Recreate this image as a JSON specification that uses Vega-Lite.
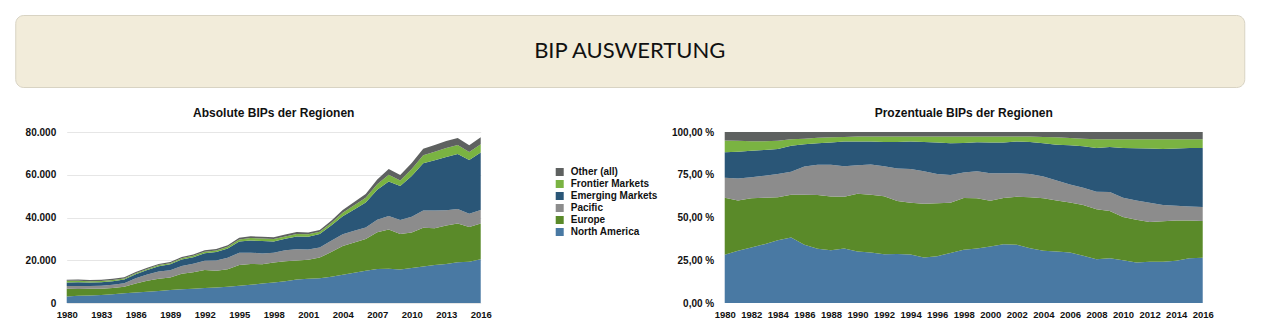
{
"$schema": "https://vega.github.io/schema/vega-lite/v6.json",
"padding": {"left": 14, "top": 14, "right": 0, "bottom": 0},
"background": "white",
"config": {
  "font": "Liberation Sans",
  "locale": {"number": {"decimal": ",", "thousands": ".", "grouping": [3], "currency": ["", " €"], "percent": " %"}},
  "view": {"stroke": null},
  "axis": {"labelFont": "Liberation Sans", "labelFontWeight": "bold", "labelFontSize": 10, "labelColor": "#111111", "domain": false, "ticks": false, "labelOverlap": false, "labelFlush": false},
  "title": {"font": "Liberation Sans", "fontSize": 12, "fontWeight": "bold", "color": "#111111", "frame": "group", "anchor": "middle", "offset": 7},
  "legend": {"labelFont": "Liberation Sans", "labelFontWeight": "bold", "labelFontSize": 10, "labelColor": "#111111", "symbolType": "square", "symbolSize": 64, "symbolStrokeWidth": 0, "rowPadding": 2, "labelOffset": 6, "padding": 0}
},
"datasets": {"gdp": [
{"year":1980,"region":"North America","gdp":3074},{"year":1980,"region":"Europe","gdp":3641},{"year":1980,"region":"Pacific","gdp":1264},{"year":1980,"region":"Emerging Markets","gdp":1635},{"year":1980,"region":"Frontier Markets","gdp":752},{"year":1980,"region":"Other (all)","gdp":534},
{"year":1981,"region":"North America","gdp":3355},{"year":1981,"region":"Europe","gdp":3245},{"year":1981,"region":"Pacific","gdp":1408},{"year":1981,"region":"Emerging Markets","gdp":1727},{"year":1981,"region":"Frontier Markets","gdp":704},{"year":1981,"region":"Other (all)","gdp":561},
{"year":1982,"region":"North America","gdp":3499},{"year":1982,"region":"Europe","gdp":3110},{"year":1982,"region":"Pacific","gdp":1339},{"year":1982,"region":"Emerging Markets","gdp":1674},{"year":1982,"region":"Frontier Markets","gdp":594},{"year":1982,"region":"Other (all)","gdp":583},
{"year":1983,"region":"North America","gdp":3750},{"year":1983,"region":"Europe","gdp":2965},{"year":1983,"region":"Pacific","gdp":1395},{"year":1983,"region":"Emerging Markets","gdp":1646},{"year":1983,"region":"Frontier Markets","gdp":556},{"year":1983,"region":"Other (all)","gdp":589},
{"year":1984,"region":"North America","gdp":4147},{"year":1984,"region":"Europe","gdp":2848},{"year":1984,"region":"Pacific","gdp":1537},{"year":1984,"region":"Emerging Markets","gdp":1650},{"year":1984,"region":"Frontier Markets","gdp":542},{"year":1984,"region":"Other (all)","gdp":576},
{"year":1985,"region":"North America","gdp":4596},{"year":1985,"region":"Europe","gdp":3000},{"year":1985,"region":"Pacific","gdp":1608},{"year":1985,"region":"Emerging Markets","gdp":1836},{"year":1985,"region":"Frontier Markets","gdp":444},{"year":1985,"region":"Other (all)","gdp":516},
{"year":1986,"region":"North America","gdp":4930},{"year":1986,"region":"Europe","gdp":4249},{"year":1986,"region":"Pacific","gdp":2393},{"year":1986,"region":"Emerging Markets","gdp":1885},{"year":1986,"region":"Frontier Markets","gdp":479},{"year":1986,"region":"Other (all)","gdp":566},
{"year":1987,"region":"North America","gdp":5247},{"year":1987,"region":"Europe","gdp":5165},{"year":1987,"region":"Pacific","gdp":2921},{"year":1987,"region":"Emerging Markets","gdp":2079},{"year":1987,"region":"Frontier Markets","gdp":545},{"year":1987,"region":"Other (all)","gdp":545},
{"year":1988,"region":"North America","gdp":5655},{"year":1988,"region":"Europe","gdp":5746},{"year":1988,"region":"Pacific","gdp":3386},{"year":1988,"region":"Emerging Markets","gdp":2379},{"year":1988,"region":"Frontier Markets","gdp":567},{"year":1988,"region":"Other (all)","gdp":567},
{"year":1989,"region":"North America","gdp":6106},{"year":1989,"region":"Europe","gdp":5818},{"year":1989,"region":"Pacific","gdp":3437},{"year":1989,"region":"Emerging Markets","gdp":2765},{"year":1989,"region":"Frontier Markets","gdp":518},{"year":1989,"region":"Other (all)","gdp":557},
{"year":1990,"region":"North America","gdp":6472},{"year":1990,"region":"Europe","gdp":7267},{"year":1990,"region":"Pacific","gdp":3591},{"year":1990,"region":"Emerging Markets","gdp":2967},{"year":1990,"region":"Frontier Markets","gdp":624},{"year":1990,"region":"Other (all)","gdp":581},
{"year":1991,"region":"North America","gdp":6697},{"year":1991,"region":"Europe","gdp":7673},{"year":1991,"region":"Pacific","gdp":4018},{"year":1991,"region":"Emerging Markets","gdp":3042},{"year":1991,"region":"Frontier Markets","gdp":658},{"year":1991,"region":"Other (all)","gdp":613},
{"year":1992,"region":"North America","gdp":7040},{"year":1992,"region":"Europe","gdp":8398},{"year":1992,"region":"Pacific","gdp":4323},{"year":1992,"region":"Emerging Markets","gdp":3507},{"year":1992,"region":"Frontier Markets","gdp":766},{"year":1992,"region":"Other (all)","gdp":667},
{"year":1993,"region":"North America","gdp":7261},{"year":1993,"region":"Europe","gdp":7818},{"year":1993,"region":"Pacific","gdp":4807},{"year":1993,"region":"Emerging Markets","gdp":3947},{"year":1993,"region":"Frontier Markets","gdp":784},{"year":1993,"region":"Other (all)","gdp":683},
{"year":1994,"region":"North America","gdp":7641},{"year":1994,"region":"Europe","gdp":8181},{"year":1994,"region":"Pacific","gdp":5346},{"year":1994,"region":"Emerging Markets","gdp":4320},{"year":1994,"region":"Frontier Markets","gdp":783},{"year":1994,"region":"Other (all)","gdp":729},
{"year":1995,"region":"North America","gdp":8113},{"year":1995,"region":"Europe","gdp":9608},{"year":1995,"region":"Pacific","gdp":5795},{"year":1995,"region":"Emerging Markets","gdp":5216},{"year":1995,"region":"Frontier Markets","gdp":946},{"year":1995,"region":"Other (all)","gdp":824},
{"year":1996,"region":"North America","gdp":8549},{"year":1996,"region":"Europe","gdp":9672},{"year":1996,"region":"Pacific","gdp":5335},{"year":1996,"region":"Emerging Markets","gdp":5710},{"year":1996,"region":"Frontier Markets","gdp":1092},{"year":1996,"region":"Other (all)","gdp":842},
{"year":1997,"region":"North America","gdp":9083},{"year":1997,"region":"Europe","gdp":9083},{"year":1997,"region":"Pacific","gdp":5022},{"year":1997,"region":"Emerging Markets","gdp":5766},{"year":1997,"region":"Frontier Markets","gdp":1209},{"year":1997,"region":"Other (all)","gdp":837},
{"year":1998,"region":"North America","gdp":9579},{"year":1998,"region":"Europe","gdp":9332},{"year":1998,"region":"Pacific","gdp":4589},{"year":1998,"region":"Emerging Markets","gdp":5328},{"year":1998,"region":"Frontier Markets","gdp":1140},{"year":1998,"region":"Other (all)","gdp":832},
{"year":1999,"region":"North America","gdp":10176},{"year":1999,"region":"Europe","gdp":9408},{"year":1999,"region":"Pacific","gdp":5088},{"year":1999,"region":"Emerging Markets","gdp":5408},{"year":1999,"region":"Frontier Markets","gdp":1056},{"year":1999,"region":"Other (all)","gdp":864},
{"year":2000,"region":"North America","gdp":10956},{"year":2000,"region":"Europe","gdp":8898},{"year":2000,"region":"Pacific","gdp":5345},{"year":2000,"region":"Emerging Markets","gdp":5943},{"year":2000,"region":"Frontier Markets","gdp":1162},{"year":2000,"region":"Other (all)","gdp":896},
{"year":2001,"region":"North America","gdp":11352},{"year":2001,"region":"Europe","gdp":8910},{"year":2001,"region":"Pacific","gdp":4785},{"year":2001,"region":"Emerging Markets","gdp":5907},{"year":2001,"region":"Frontier Markets","gdp":1155},{"year":2001,"region":"Other (all)","gdp":891},
{"year":2002,"region":"North America","gdp":11628},{"year":2002,"region":"Europe","gdp":9610},{"year":2002,"region":"Pacific","gdp":4720},{"year":2002,"region":"Emerging Markets","gdp":6327},{"year":2002,"region":"Frontier Markets","gdp":992},{"year":2002,"region":"Other (all)","gdp":923},
{"year":2003,"region":"North America","gdp":12320},{"year":2003,"region":"Europe","gdp":11512},{"year":2003,"region":"Pacific","gdp":5236},{"year":2003,"region":"Emerging Markets","gdp":7200},{"year":2003,"region":"Frontier Markets","gdp":1194},{"year":2003,"region":"Other (all)","gdp":1040},
{"year":2004,"region":"North America","gdp":13268},{"year":2004,"region":"Europe","gdp":13355},{"year":2004,"region":"Pacific","gdp":5568},{"year":2004,"region":"Emerging Markets","gdp":8439},{"year":2004,"region":"Frontier Markets","gdp":1610},{"year":2004,"region":"Other (all)","gdp":1262},
{"year":2005,"region":"North America","gdp":14207},{"year":2005,"region":"Europe","gdp":14113},{"year":2005,"region":"Pacific","gdp":5522},{"year":2005,"region":"Emerging Markets","gdp":9865},{"year":2005,"region":"Frontier Markets","gdp":2030},{"year":2005,"region":"Other (all)","gdp":1463},
{"year":2006,"region":"North America","gdp":15045},{"year":2006,"region":"Europe","gdp":14943},{"year":2006,"region":"Pacific","gdp":5355},{"year":2006,"region":"Emerging Markets","gdp":11679},{"year":2006,"region":"Frontier Markets","gdp":2193},{"year":2006,"region":"Other (all)","gdp":1785},
{"year":2007,"region":"North America","gdp":15953},{"year":2007,"region":"Europe","gdp":17167},{"year":2007,"region":"Pacific","gdp":5838},{"year":2007,"region":"Emerging Markets","gdp":14045},{"year":2007,"region":"Frontier Markets","gdp":2543},{"year":2007,"region":"Other (all)","gdp":2254},
{"year":2008,"region":"North America","gdp":16051},{"year":2008,"region":"Europe","gdp":18308},{"year":2008,"region":"Pacific","gdp":6395},{"year":2008,"region":"Emerging Markets","gdp":16114},{"year":2008,"region":"Frontier Markets","gdp":3135},{"year":2008,"region":"Other (all)","gdp":2696},
{"year":2009,"region":"North America","gdp":15694},{"year":2009,"region":"Europe","gdp":16532},{"year":2009,"region":"Pacific","gdp":6649},{"year":2009,"region":"Emerging Markets","gdp":15814},{"year":2009,"region":"Frontier Markets","gdp":2636},{"year":2009,"region":"Other (all)","gdp":2576},
{"year":2010,"region":"North America","gdp":16375},{"year":2010,"region":"Europe","gdp":16572},{"year":2010,"region":"Pacific","gdp":7402},{"year":2010,"region":"Emerging Markets","gdp":19061},{"year":2010,"region":"Frontier Markets","gdp":3275},{"year":2010,"region":"Other (all)","gdp":2817},
{"year":2011,"region":"North America","gdp":17111},{"year":2011,"region":"Europe","gdp":18050},{"year":2011,"region":"Pacific","gdp":8159},{"year":2011,"region":"Emerging Markets","gdp":22021},{"year":2011,"region":"Frontier Markets","gdp":3754},{"year":2011,"region":"Other (all)","gdp":3105},
{"year":2012,"region":"North America","gdp":17810},{"year":2012,"region":"Europe","gdp":17219},{"year":2012,"region":"Pacific","gdp":8277},{"year":2012,"region":"Emerging Markets","gdp":23426},{"year":2012,"region":"Frontier Markets","gdp":3991},{"year":2012,"region":"Other (all)","gdp":3178},
{"year":2013,"region":"North America","gdp":18268},{"year":2013,"region":"Europe","gdp":17965},{"year":2013,"region":"Pacific","gdp":7201},{"year":2013,"region":"Emerging Markets","gdp":24862},{"year":2013,"region":"Frontier Markets","gdp":4245},{"year":2013,"region":"Other (all)","gdp":3259},
{"year":2014,"region":"North America","gdp":19068},{"year":2014,"region":"Europe","gdp":18142},{"year":2014,"region":"Pacific","gdp":6716},{"year":2014,"region":"Emerging Markets","gdp":25785},{"year":2014,"region":"Frontier Markets","gdp":4169},{"year":2014,"region":"Other (all)","gdp":3320},
{"year":2015,"region":"North America","gdp":19336},{"year":2015,"region":"Europe","gdp":16236},{"year":2015,"region":"Pacific","gdp":6125},{"year":2015,"region":"Emerging Markets","gdp":25240},{"year":2015,"region":"Frontier Markets","gdp":3690},{"year":2015,"region":"Other (all)","gdp":3173},
{"year":2016,"region":"North America","gdp":20486},{"year":2016,"region":"Europe","gdp":16762},{"year":2016,"region":"Pacific","gdp":6286},{"year":2016,"region":"Emerging Markets","gdp":26850},{"year":2016,"region":"Frontier Markets","gdp":3880},{"year":2016,"region":"Other (all)","gdp":3337}
],
"regions": [
{"region":"North America","stackOrder":1},{"region":"Europe","stackOrder":2},{"region":"Pacific","stackOrder":3},{"region":"Emerging Markets","stackOrder":4},{"region":"Frontier Markets","stackOrder":5},{"region":"Other (all)","stackOrder":6}
],
"banner": [{"label": "BIP AUSWERTUNG"}]},
"spacing": 19,
"center": true,
"vconcat": [
  {
    "data": {"name": "banner"},
    "width": 1229,
    "height": 72,
    "title": {"text": " ", "orient": "right", "fontSize": 1, "offset": 19},
    "view": {"fill": "#F2ECDA", "stroke": "#D8D3C3", "strokeWidth": 1, "cornerRadius": 8},
    "mark": {"type": "text", "font": "Lato", "fontWeight": 400, "fontSize": 22, "color": "#111111"},
    "encoding": {"text": {"field": "label", "type": "nominal"}}
  },
  {
    "data": {"name": "gdp"},
    "transform": [{"lookup": "region", "from": {"data": {"name": "regions"}, "key": "region", "fields": ["stackOrder"]}}],
    "resolve": {"scale": {"color": "independent"}},
    "spacing": 13,
    "hconcat": [
      {
        "width": 414,
        "height": 171,
        "title": {"text": "Absolute BIPs der Regionen"},
        "mark": {"type": "area", "interpolate": "linear"},
        "encoding": {
          "x": {"field": "year", "type": "quantitative",
                "scale": {"domain": [1980, 2016], "nice": false, "zero": false},
                "axis": {"values": [1980,1983,1986,1989,1992,1995,1998,2001,2004,2007,2010,2013,2016], "format": "d", "labelPadding": 6, "grid": false, "labelFontSize": 9.5, "title": null}},
          "y": {"field": "gdp", "type": "quantitative", "stack": "zero",
                "scale": {"domain": [0, 80000], "nice": false},
                "axis": {"values": [0,20000,40000,60000,80000], "format": ",d", "labelPadding": 11, "grid": true, "gridColor": "#E6E6E6", "title": null}},
          "order": {"field": "stackOrder", "type": "quantitative", "sort": "ascending"},
          "color": {"field": "region", "type": "nominal",
                    "scale": {"domain": ["Other (all)", "Frontier Markets", "Emerging Markets", "Pacific", "Europe", "North America"],
                              "range": ["#5E6160", "#7AB342", "#2A5677", "#8C8C8C", "#5A8A29", "#4979A3"]},
                    "legend": {"orient": "none", "legendX": 488, "legendY": 35, "title": null}}
        }
      },
      {
        "width": 478,
        "height": 171,
        "title": {"text": "Prozentuale BIPs der Regionen"},
        "mark": {"type": "area", "interpolate": "linear"},
        "encoding": {
          "x": {"field": "year", "type": "quantitative",
                "scale": {"domain": [1980, 2016], "nice": false, "zero": false},
                "axis": {"values": [1980,1982,1984,1986,1988,1990,1992,1994,1996,1998,2000,2002,2004,2006,2008,2010,2012,2014,2016], "format": "d", "labelPadding": 6, "grid": false, "labelFontSize": 9.5, "title": null}},
          "y": {"field": "gdp", "type": "quantitative", "stack": "normalize",
                "scale": {"domain": [0, 1], "nice": false},
                "axis": {"values": [0,0.25,0.5,0.75,1], "labelExpr": "replace(format(datum.value * 100, '.2f'), '.', ',') + ' %'", "labelPadding": 11, "grid": false, "title": null}},
          "order": {"field": "stackOrder", "type": "quantitative", "sort": "ascending"},
          "color": {"field": "region", "type": "nominal",
                    "scale": {"domain": ["Other (all)", "Frontier Markets", "Emerging Markets", "Pacific", "Europe", "North America"],
                              "range": ["#5E6160", "#7AB342", "#2A5677", "#8C8C8C", "#5A8A29", "#4979A3"]},
                    "legend": null}
        }
      }
    ]
  }
]
}
